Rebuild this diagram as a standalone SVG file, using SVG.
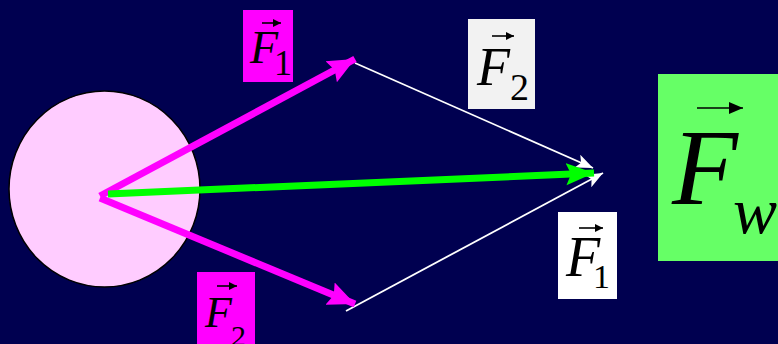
<svg xmlns="http://www.w3.org/2000/svg" width="778" height="344" viewBox="0 0 778 344">
<style>
.lbl{font-family:"Liberation Serif","Times New Roman",serif;fill:#000}
.it{font-style:italic}
.vec{stroke:#000;stroke-width:1.6;fill:none}
</style>
<defs>
<marker id="mh" markerUnits="userSpaceOnUse" markerWidth="30" markerHeight="28" refX="27" refY="13" orient="auto"><path d="M0,1 L27,13 L0,25 L4,13 Z" fill="#FF00FF"/></marker>
<marker id="gh" markerUnits="userSpaceOnUse" markerWidth="30" markerHeight="24" refX="28" refY="12" orient="auto"><path d="M0,1 L28,12 L0,23 L5,12 Z" fill="#00FF00"/></marker>
<marker id="wh" markerUnits="userSpaceOnUse" markerWidth="18" markerHeight="14" refX="17" refY="7" orient="auto"><path d="M0,0 L17,7 L0,14 L4,7 Z" fill="#FFFFFF"/></marker>
<marker id="vh" markerUnits="userSpaceOnUse" markerWidth="10" markerHeight="10" refX="8" refY="5" orient="auto"><path d="M0,1 L8,5 L0,9 Z" fill="#000"/></marker>
<marker id="vhb" markerUnits="userSpaceOnUse" markerWidth="16" markerHeight="14" refX="14" refY="7" orient="auto"><path d="M0,1 L14,7 L0,13 Z" fill="#000"/></marker>
</defs>
<rect x="0" y="0" width="778" height="344" fill="#000050"/>
<g id="body"><ellipse cx="104.5" cy="189" rx="95.5" ry="98" fill="#FFCCFF" stroke="#000" stroke-width="1.5"/></g>
<g id="connectors">
<line x1="355" y1="63" x2="593" y2="168" stroke="#FFF" stroke-width="1.8" marker-end="url(#wh)"/>
<line x1="346" y1="311" x2="603" y2="173" stroke="#FFF" stroke-width="1.8" marker-end="url(#wh)"/>
<line x1="100" y1="196" x2="355" y2="59" stroke="#FF00FF" stroke-width="7" marker-end="url(#mh)"/>
<line x1="100" y1="198" x2="355" y2="304" stroke="#FF00FF" stroke-width="7" marker-end="url(#mh)"/>
<line x1="108" y1="194" x2="594" y2="173" stroke="#00FF00" stroke-width="7" marker-end="url(#gh)"/>
</g>
<g id="label-F1-top">
<rect x="243" y="10" width="50" height="72" fill="#FF00FF"/>
<line class="vec" x1="262" y1="23" x2="281" y2="23" marker-end="url(#vh)"/>
<text class="lbl it" x="250" y="63" font-size="46">F</text>
<text class="lbl" x="274" y="75" font-size="36">1</text>
</g>
<g id="label-F2-top">
<rect x="468" y="19" width="67" height="90" fill="#F2F2F2"/>
<line class="vec" x1="492" y1="36" x2="514" y2="36" marker-end="url(#vh)"/>
<text class="lbl it" x="477" y="85" font-size="54">F</text>
<text class="lbl" x="510" y="100" font-size="38">2</text>
</g>
<g id="label-F1-right">
<rect x="558" y="212" width="59" height="87" fill="#FFFFFF"/>
<line class="vec" x1="579" y1="228" x2="603" y2="228" marker-end="url(#vh)"/>
<text class="lbl it" x="566" y="276" font-size="56">F</text>
<text class="lbl" x="593" y="288" font-size="34">1</text>
</g>
<g id="label-Fw">
<rect x="658" y="74" width="120" height="187" fill="#66FF66"/>
<line class="vec" x1="697" y1="108" x2="743" y2="108" stroke-width="3.5" marker-end="url(#vhb)"/>
<text class="lbl it" x="672" y="204" font-size="108">F</text>
<text class="lbl it" x="733" y="233" font-size="66">w</text>
</g>
<g id="label-F2-bottom">
<rect x="197" y="272" width="58" height="72" fill="#FF00FF"/>
<line class="vec" x1="217" y1="286" x2="237" y2="286" marker-end="url(#vh)"/>
<text class="lbl it" x="205" y="327" font-size="44">F</text>
<text class="lbl" x="231" y="346" font-size="30">2</text>
</g>
</svg>
